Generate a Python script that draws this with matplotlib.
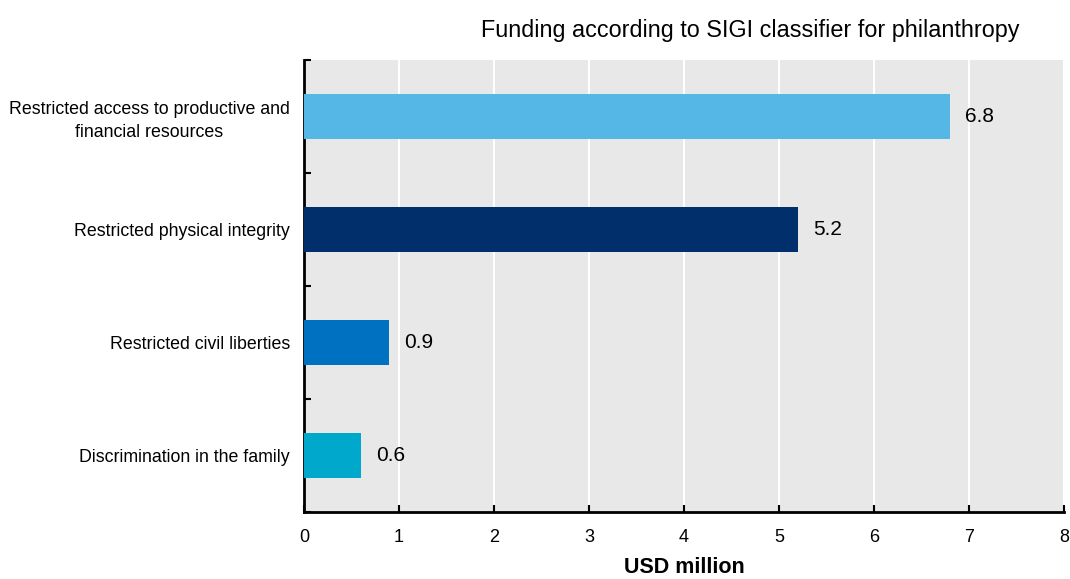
import matplotlib.pyplot as plt

plt.rcParams['font.family'] = ['Liberation Sans', 'DejaVu Sans']

# SIGI categories, top to bottom
categories = [
    'Restricted access to productive and\nfinancial resources',
    'Restricted physical integrity',
    'Restricted civil liberties',
    'Discrimination in the family',
]
funding = [6.8, 5.2, 0.9, 0.6]
bar_colors = ['#55b7e6', '#002f6c', '#0070c0', '#00a9cc']
xticks = [0, 1, 2, 3, 4, 5, 6, 7, 8]

fig = plt.figure(figsize=(10.7, 5.79), dpi=100)
ax = fig.add_axes([0.284, 0.1157, 0.7104, 0.7807])
ax.set_facecolor('#e8e8e8')

ypos = list(range(len(categories)))[::-1]
ax.barh(ypos, funding, height=0.4, color=bar_colors, zorder=3)

for y, v in zip(ypos, funding):
    ax.text(v + 0.16, y, f'{v:.1f}', va='center', ha='left', fontsize=15, zorder=4)

ax.set_xlim(0, 8)
ax.set_ylim(-0.5, len(categories) - 0.5)
ax.set_xticks(xticks)
ax.set_xticklabels([str(t) for t in xticks], fontsize=13)
ax.set_yticks(ypos)
ax.set_yticklabels(categories, fontsize=12.8, linespacing=1.45,
                   ha='right', multialignment='center')
ax.tick_params(axis='y', length=0, pad=10)
ax.tick_params(axis='x', direction='in', length=5, width=1.5, pad=12)

# boundary ticks between categories on the left spine
ax.set_yticks([y - 0.5 for y in range(len(categories) + 1)], minor=True)
ax.tick_params(axis='y', which='minor', direction='in', length=5, width=1.5)

ax.grid(axis='x', color='white', linewidth=1.5, zorder=1)
ax.grid(axis='y', visible=False)
for s in ['top', 'right']:
    ax.spines[s].set_visible(False)
for s in ['left', 'bottom']:
    ax.spines[s].set_linewidth(2)
    ax.spines[s].set_color('black')

ax.set_xlabel('USD million', fontsize=15.5, fontweight='bold', labelpad=8)
fig.text(750 / 1070, 1 - 30 / 579, 'Funding according to SIGI classifier for philanthropy',
         ha='center', va='center', fontsize=16.8)

fig.savefig('out.png', dpi=100)
